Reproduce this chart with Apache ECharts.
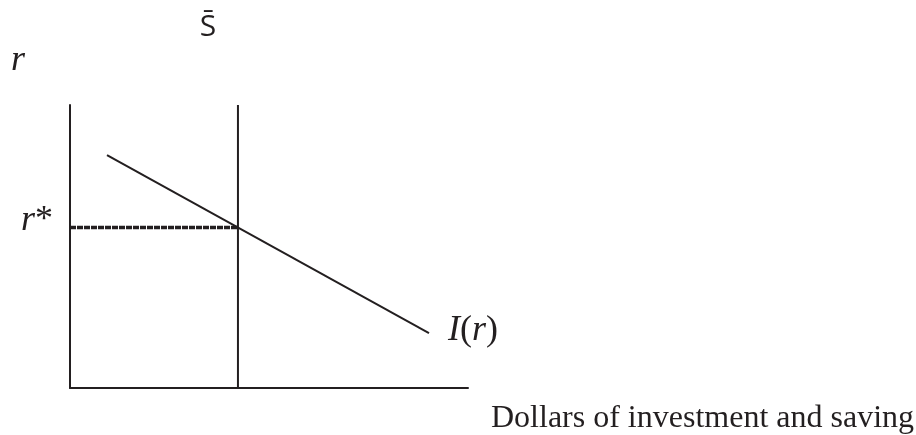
<!DOCTYPE html>
<html>
<head>
<meta charset="utf-8">
<script src="https://cdn.jsdelivr.net/npm/echarts@6/dist/echarts.min.js"></script>
<style>
  html, body { margin: 0; padding: 0; background: #fff; }
  #chart { width: 916px; height: 435px; }
</style>
</head>
<body>
<div id="chart"></div>
<script>
    // axis range (data units)
    var axisRange = [0, 100];

    // investment schedule I(r): two end points [dollars, r]
    var investX = [9.3, 90.2];
    var investY = [82.3, 19.4];

    // fixed saving S-bar
    var savingX = 42.2;

    // equilibrium interest rate r*
    var rStar = 56.7;

    var labels = {
        yName: '{i|r}',
        xName: 'Dollars of investment and saving',
        saving: 'S\u0304',
        rStar: '{i|r}{u|*}',
        invest: '{i|I}{u|(}{i|r}{u|)}'
    };

    var ink = '#231f20';
    var serif = '"Liberation Serif", "DejaVu Serif", serif';

    var chart = echarts.init(document.getElementById('chart'));

    function pair(xs, ys) {
        var out = [];
        for (var i = 0; i < xs.length; i++) {
            out.push([xs[i], ys[i]]);
        }
        return out;
    }

    function plainAxis() {
        return {
            type: 'value',
            min: axisRange[0],
            max: axisRange[1],
            axisLine: {show: true, lineStyle: {color: ink, width: 2}},
            axisTick: {show: false},
            axisLabel: {show: false},
            splitLine: {show: false}
        };
    }

    // math-style label: italic letters, upright symbols
    function mathText(text, x, y, size) {
        return {
            type: 'text',
            x: x,
            y: y,
            style: {
                text: text,
                fill: ink,
                verticalAlign: 'middle',
                rich: {
                    i: {font: 'italic ' + size + 'px ' + serif, fill: ink},
                    u: {font: size + 'px ' + serif, fill: ink}
                }
            }
        };
    }

    function plainText(text, x, y, font, align) {
        return {
            type: 'text',
            x: x,
            y: y,
            style: {
                text: text,
                font: font,
                fill: ink,
                align: align || 'left',
                verticalAlign: 'middle'
            }
        };
    }

    var option = {
        animation: false,
        backgroundColor: '#fff',
        grid: {left: 70, right: 448, top: 105, bottom: 47},
        xAxis: plainAxis(),
        yAxis: plainAxis(),
        series: [
            {
                type: 'line',
                data: pair(investX, investY),
                symbol: 'none',
                lineStyle: {color: ink, width: 2}
            },
            {
                type: 'line',
                data: [[savingX, axisRange[0]], [savingX, axisRange[1]]],
                symbol: 'none',
                lineStyle: {color: ink, width: 2}
            },
            {
                type: 'line',
                data: [[axisRange[0], rStar], [savingX, rStar]],
                symbol: 'none',
                lineStyle: {color: ink, width: 3.5, type: [6, 1]}
            }
        ],
        graphic: [
            mathText(labels.yName, 11, 61, 36),
            plainText(labels.saving, 208, 27, '30px "Open Sans", "Liberation Sans", sans-serif', 'center'),
            mathText(labels.rStar, 21, 221, 36),
            mathText(labels.invest, 448, 331, 36),
            plainText(labels.xName, 491, 419, '32px ' + serif)
        ]
    };

    chart.setOption(option);
</script>
</body>
</html>
